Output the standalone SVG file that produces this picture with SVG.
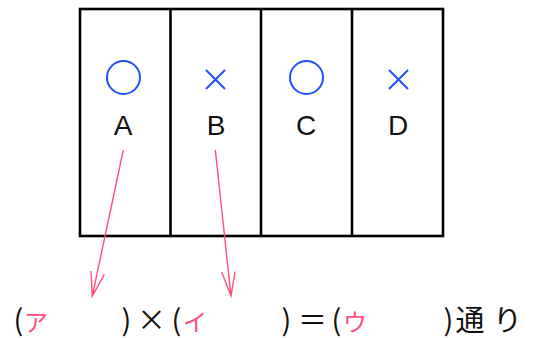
<svg xmlns="http://www.w3.org/2000/svg" width="534" height="338" viewBox="0 0 534 338">
<style>
.box{fill:none;stroke:#000;stroke-width:2.6}
.mark{fill:none;stroke:#1f4fff;stroke-width:2}
.lbl{font-family:"Liberation Sans","Noto Sans",sans-serif;font-size:28px;fill:#111;text-anchor:middle}
.arr{fill:none;stroke:#ff4f7a;stroke-width:1.4}
.bt{font-family:"Noto Sans CJK JP","Noto Sans",sans-serif;font-size:29px;fill:#111;text-anchor:middle}
.kana{font-family:"Noto Sans CJK JP",sans-serif;font-size:24px;fill:#ff4f7a;text-anchor:middle}
</style>
<rect width="534" height="338" fill="#fff"/>
<g id="grid">
<rect class="box" x="80" y="9" width="363" height="227"/>
<line class="box" x1="170.5" y1="9" x2="170.5" y2="236"/>
<line class="box" x1="261" y1="9" x2="261" y2="236"/>
<line class="box" x1="352" y1="9" x2="352" y2="236"/>
</g>
<g id="nodeA"><circle class="mark" cx="123.5" cy="77.5" r="16.5"/><text class="lbl" x="123" y="135">A</text></g>
<g id="nodeB"><path class="mark" d="M206,70 L225,89 M225,70 L206,89"/><text class="lbl" x="216" y="135">B</text></g>
<g id="nodeC"><circle class="mark" cx="306.5" cy="77.5" r="16.5"/><text class="lbl" x="306" y="135">C</text></g>
<g id="nodeD"><path class="mark" d="M389,70 L408,89 M408,70 L389,89"/><text class="lbl" x="398" y="135">D</text></g>
<g id="connectors">
<path class="arr" d="M123.3,150 L92.3,296 M91,271 L92.3,296 L104.3,274.3"/>
<path class="arr" d="M215.3,150 L231,296 M221.7,272.3 L231,296 L235,271.7"/>
</g>
<g id="formula">
<text class="bt" x="18.5" y="331">(</text>
<text class="kana" x="36" y="331">ア</text>
<text class="bt" x="126.5" y="331">)</text>
<text class="bt" x="151.5" y="331">×</text>
<text class="bt" x="176.5" y="331">(</text>
<text class="kana" x="195" y="331">イ</text>
<text class="bt" x="286.5" y="331">)</text>
<text class="bt" x="312.5" y="331">＝</text>
<text class="bt" x="336.5" y="331">(</text>
<text class="kana" x="355" y="331">ウ</text>
<text class="bt" x="448.5" y="331">)</text>
<text class="bt" x="470" y="331">通</text>
<text class="bt" x="507.5" y="331">り</text>
</g>
</svg>
